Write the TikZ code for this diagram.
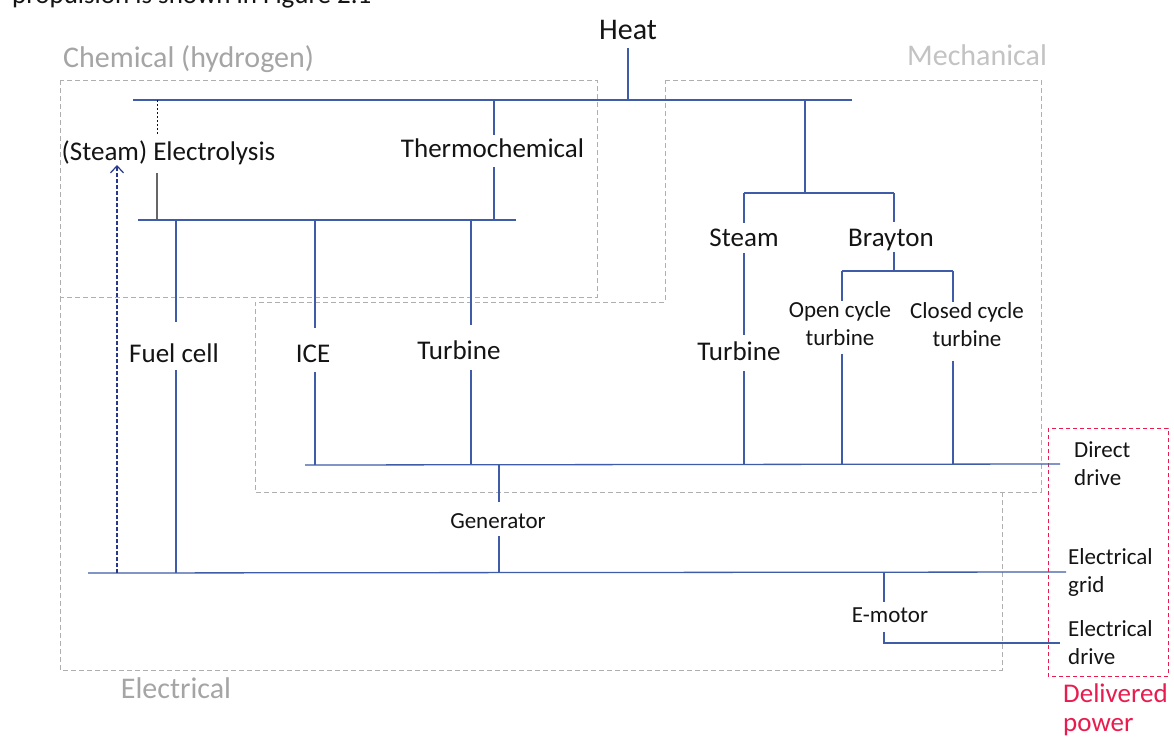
\documentclass[tikz,border=0pt]{standalone}
\usepackage{fontspec}
\setmainfont{Carlito}
\usetikzlibrary{arrows.meta}
\definecolor{wirec}{RGB}{62,92,168}
\definecolor{navy}{RGB}{38,55,140}
\definecolor{zonec}{RGB}{175,175,175}
\definecolor{zonetxt}{RGB}{165,165,165}
\definecolor{zonetxtlight}{RGB}{195,195,195}
\definecolor{deliv}{RGB}{232,28,78}
\definecolor{ink}{RGB}{20,20,20}
\begin{document}
\begin{tikzpicture}[x=1pt,y=-1pt,
  wire/.style={draw=wirec,line width=1.3pt},
  lab/.style={font=\fontsize{27}{32}\selectfont,text=ink,inner sep=0pt,anchor=base},
  slab/.style={font=\fontsize{23}{28}\selectfont,text=ink,inner sep=0pt,align=center},
  sidelab/.style={font=\fontsize{23}{28}\selectfont,text=ink,inner ysep=0pt,align=left,anchor=west},
  zone/.style={draw=zonec,line width=0.9pt,dash pattern=on 5pt off 3pt},
  zonelab/.style={font=\fontsize{30}{34}\selectfont,text=zonetxt,inner sep=0pt}]

\useasboundingbox[fill=white] (0,0) rectangle (1174,736);

% running text of the page above the figure
\node[font=\fontsize{27}{32}\selectfont,text=ink,inner sep=0pt,anchor=base west] (caption) at (12,4) {propulsion is shown in Figure 2.1};

% energy domains
\draw[zone] (60,80) rectangle (597,297);
\draw[zone] (665,80) -- (1041,80) -- (1041,492) -- (255,492) -- (255,302) -- (665,302) -- cycle;
\draw[zone] (60,297) -- (60,670) -- (1002,670) -- (1002,492);
\node[zonelab,anchor=west] (chemlab) at (63,59) {Chemical (hydrogen)};
\node[zonelab,anchor=west,text=zonetxtlight] (mechlab) at (907,55) {Mechanical};
\node[zonelab] (eleclab) at (176,688) {Electrical};

% delivered power
\draw[deliv,line width=1pt,dash pattern=on 4pt off 3pt] (1048,428) rectangle (1168,676);
\node[font=\fontsize{27}{29}\selectfont,text=deliv,inner sep=0pt,align=left,anchor=north west] (delivlab) at (1063,684) {Delivered\\power};

% bus lines and junctions
\coordinate (h1w) at (133,100);
\coordinate (h1e) at (852,100);
\coordinate (h2w) at (138,220);
\coordinate (h2e) at (516,220);
\coordinate (mdw) at (305,465);
\coordinate (elw) at (88,573);
\coordinate (stw) at (744,193);
\coordinate (bre) at (894,193);
\coordinate (heatj) at (805,100);
\coordinate (byw) at (842,271);
\coordinate (bye) at (953,271);
\coordinate (ex) at (157,160);
\coordinate (tx) at (494,157);
\coordinate (fx) at (176,362);
\coordinate (ix) at (315,362);
\coordinate (t1x) at (471,359);
\coordinate (gx) at (499,528);
\coordinate (mx) at (884,622);
\coordinate (ax) at (117,573);
\coordinate (atip) at (117,165);

% labels
\node[lab,font=\fontsize{30}{34}\selectfont,text depth=9pt] (heat) at (628,39) {Heat};
\node[lab,text height=25pt,text depth=13pt] (elec) at (168.5,160) {(Steam) Electrolysis};
\node[lab,text height=22pt,text depth=10pt] (thermo) at (492.5,157) {Thermochemical};
\node[lab,text height=40pt,text depth=8pt] (fuel) at (174,362) {Fuel cell};
\node[lab,text height=34pt,text depth=10pt] (ice) at (313,362) {ICE};
\node[lab,text height=34pt,text depth=11pt] (turb1) at (459,359) {Turbine};
\node[lab,text height=23pt,text depth=7pt] (steam) at (744,246) {Steam};
\node[lab,text height=25pt,text depth=11pt] (turb2) at (739,360) {Turbine};
\node[lab,text height=24pt,text depth=6pt] (brayton) at (891,246) {Brayton};
\node[slab,anchor=north] (open) at (840,301) {Open cycle\\turbine};
\node[slab,anchor=north] (closed) at (967,302) {Closed cycle\\turbine};
\node[lab,font=\fontsize{23}{28}\selectfont,text height=26pt,text depth=8pt] (gen) at (498,528) {Generator};
\node[lab,font=\fontsize{23}{28}\selectfont,text height=20pt,text depth=10pt] (emot) at (890,622) {E-motor};
\node[sidelab,inner xsep=14pt] (dd) at (1060,464) {Direct\\drive};
\node[sidelab,inner xsep=2pt] (eg) at (1066,572) {Electrical\\grid};
\node[sidelab,inner xsep=8pt] (ed) at (1060,643) {Electrical\\drive};

\coordinate (openlow) at ([yshift=-8pt]open.south);
\coordinate (closedlow) at ([yshift=-14pt]closed.south);

% heat distribution
\draw[wire] (heat.south) -- (heat.south |- h1w);
\draw[wire] (h1w) -- (h1e);
\draw[ink,line width=1pt,dash pattern=on 2pt off 2pt] (h1w -| ex) -- (elec.north -| ex);
\draw[draw=gray!80!black,line width=1.2pt] (elec.south -| ex) -- (h2w -| ex);
\draw[wire] (h1w -| tx) -- (thermo.north -| tx);
\draw[wire] (thermo.south -| tx) -- (h2w -| tx);
\draw[wire] (h2w) -- (h2e);

% hydrogen converters
\draw[wire] (h2w -| fx) -- (fuel.north -| fx);
\draw[wire] (fuel.south -| fx) -- (elw -| fx);
\draw[wire] (h2w -| ix) -- (ice.north -| ix);
\draw[wire] (ice.south -| ix) -- (mdw -| ix);
\draw[wire] (h2w -| t1x) -- (turb1.north -| t1x);
\draw[wire] (turb1.south -| t1x) -- (mdw -| t1x);

% thermal cycles
\draw[wire] (heatj) -- (heatj |- stw);
\draw[wire] (stw) -- (bre);
\draw[wire] (stw) -- (steam.north -| stw);
\draw[wire] (steam.south -| stw) -- (turb2.north -| stw);
\draw[wire] (turb2.south -| stw) -- (mdw -| stw);
\draw[wire] (bre) -- (brayton.north -| bre);
\draw[wire] (brayton.south -| bre) -- (byw -| bre);
\draw[wire] (byw) -- (bye);
\draw[wire] (byw) -- (byw |- open.north);
\draw[wire] (openlow -| byw) -- (mdw -| byw);
\draw[wire] (bye) -- (bye |- closed.north);
\draw[wire] (closedlow -| bye) -- (mdw -| bye);

% shaft power and electrical power
\draw[wire] (mdw) -- (dd.west);
\draw[wire] (mdw -| gx) -- (gen.north -| gx);
\draw[wire] (gen.south -| gx) -- (elw -| gx);
\draw[wire] (elw) -- (eg.west);
\draw[wire] (elw -| mx) -- (emot.north -| mx);
\draw[wire] (emot.south -| mx) |- (ed.west);

% electricity fed back to electrolysis
\draw[navy,line width=1.2pt,dash pattern=on 4pt off 2pt,-{Straight Barb[length=7pt,width=13pt]}] (ax) -- (atip);
\end{tikzpicture}
\end{document}
